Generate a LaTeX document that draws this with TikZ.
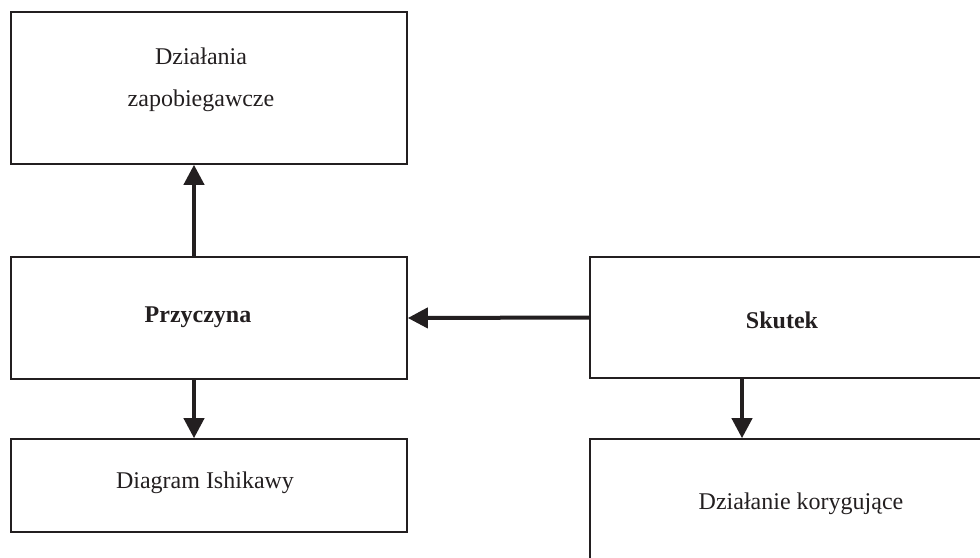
\documentclass[tikz,border=0pt]{standalone}
\usepackage{fontspec}
\setmainfont{Liberation Serif}
\usetikzlibrary{arrows.meta}
\definecolor{ink}{HTML}{231F20}
\begin{document}
\begin{tikzpicture}[x=1pt,y=-1pt,
  box/.style={draw=ink,line width=1.6pt,rectangle,inner sep=0pt},
  lbl/.style={text=ink,font=\fontsize{24}{28}\selectfont,anchor=base,inner sep=0pt},
  blbl/.style={lbl,font=\fontsize{24}{28}\selectfont\bfseries},
  conn/.style={draw=ink,line width=4pt,-{Triangle[width=20pt,length=20pt]}}]
\useasboundingbox (0,0) rectangle (980,557);
\clip (0,0) rectangle (980,557);
% boxes
\node[box,minimum width=396pt,minimum height=152pt] (top) at (209,88) {};
\node[box,minimum width=396pt,minimum height=122pt] (prz) at (209,318) {};
\node[box,minimum width=396pt,minimum height=93pt] (dia) at (209,485.5) {};
\node[box,minimum width=396pt,minimum height=121pt] (sk) at (788,317.5) {};
\node[box,minimum width=396pt,minimum height=128pt] (dk) at (788,503) {};
% texts
\node[lbl] (t1) at (201,64) {Działania};
\node[lbl] (t2) at (201,106) {zapobiegawcze};
\node[blbl] (t3) at (198,322) {Przyczyna};
\node[lbl] (t4) at (205,488) {Diagram Ishikawy};
\node[blbl] (t5) at (782,328) {Skutek};
\node[lbl] (t6) at (801,509) {Działanie korygujące};
% connectors
\coordinate (ax) at (194,0);
\coordinate (bx) at (742,0);
\draw[conn] (prz.north -| ax) -- (top.south -| ax);
\draw[conn] (prz.south -| ax) -- (dia.north -| ax);
\draw[conn] (sk.west) -- (prz.east);
\draw[conn] (sk.south -| bx) -- (dk.north -| bx);
\end{tikzpicture}
\end{document}
